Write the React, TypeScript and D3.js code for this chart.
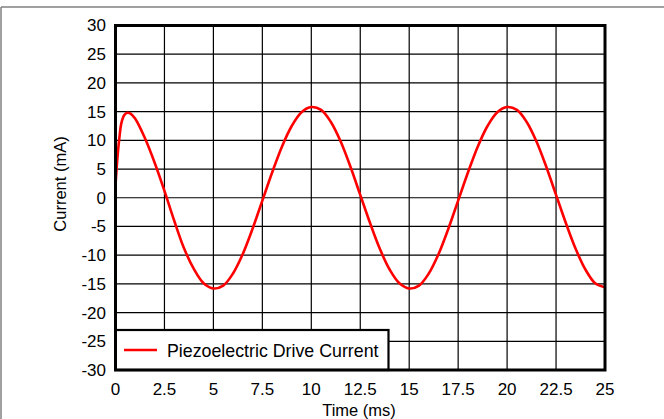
import React from "react";
import * as d3 from "d3";

const timeMs = [0, 0.1, 0.2, 0.3, 0.45, 0.6, 0.75, 1.0, 1.5, 2.0, 2.5, 3.0, 3.5, 4.0, 4.5, 5.0, 5.5, 6.0, 6.5, 7.0, 7.5, 8.0, 8.5, 9.0, 9.5, 10.0, 10.5, 11.0, 11.5, 12.0, 12.5, 13.0, 13.5, 14.0, 14.5, 15.0, 15.5, 16.0, 16.5, 17.0, 17.5, 18.0, 18.5, 19.0, 19.5, 20.0, 20.5, 21.0, 21.5, 22.0, 22.5, 23.0, 23.5, 24.0, 24.5, 25.0];
const currentMa = [2.2, 7.0, 10.5, 13.0, 14.4, 14.8, 14.7, 13.8, 10.4, 6.1, 1.2, -4.0, -8.8, -12.4, -14.9, -15.8, -15.3, -13.2, -9.8, -5.4, -0.5, 4.4, 8.9, 12.5, 14.9, 15.8, 15.3, 13.2, 9.8, 5.4, 0.5, -4.4, -8.9, -12.5, -14.9, -15.8, -15.3, -13.2, -9.8, -5.4, -0.5, 4.4, 8.9, 12.5, 14.9, 15.8, 15.3, 13.2, 9.8, 5.4, 0.5, -4.4, -8.9, -12.5, -14.9, -15.6];
const xTicks = [0, 2.5, 5, 7.5, 10, 12.5, 15, 17.5, 20, 22.5, 25];
const xTickLabels = ["0", "2.5", "5", "7.5", "10", "12.5", "15", "17.5", "20", "22.5", "25"];
const yTicks = [30, 25, 20, 15, 10, 5, 0, -5, -10, -15, -20, -25, -30];
const seriesName = "Piezoelectric Drive Current";
const xTitle = "Time (ms)";
const yTitle = "Current (mA)";

export default function App() {
  const W = 664, H = 419;
  const x = d3.scaleLinear().domain([0, 25]).range([115.5, 605]);
  const y = d3.scaleLinear().domain([-30, 30]).range([370, 25.5]);
  const pts: [number, number][] = timeMs.map((t, i) => [t, currentMa[i]]);
  const line = d3.line<[number, number]>().x(d => x(d[0])).y(d => y(d[1])).curve(d3.curveCatmullRom.alpha(0.5));
  const font = "Arial, 'Liberation Sans', sans-serif";
  const legX0 = x(0), legY0 = 330, legX1 = 388.5, legY1 = y(-30);
  return (
    <svg width={W} height={H} style={{ position: "absolute", left: 0, top: 0, background: "#fff" }} fontFamily={font}>
      <rect x={0} y={0} width={W} height={H} fill="#fff" />
      <line x1={1} x2={W} y1={7} y2={7} stroke="#808080" strokeWidth={1.5} />
      <line x1={1} x2={1} y1={7} y2={H} stroke="#808080" strokeWidth={1.5} />
      {xTicks.map(t => (
        <line key={"vx" + t} x1={x(t)} x2={x(t)} y1={y(30)} y2={y(-30)} stroke="#000" strokeWidth={1.2} />
      ))}
      {yTicks.map(v => (
        <line key={"hy" + v} x1={x(0)} x2={x(25)} y1={y(v)} y2={y(v)} stroke="#000" strokeWidth={1.2} />
      ))}
      <path d={line(pts) || ""} fill="none" stroke="#ff0000" strokeWidth={2.6} />
      <rect x={legX0} y={legY0} width={legX1 - legX0} height={legY1 - legY0} fill="#fff" stroke="#000" strokeWidth={2.2} />
      <line x1={124} x2={157} y1={350} y2={350} stroke="#ff0000" strokeWidth={2.6} />
      <text x={167} y={357} fontSize={17.8} fill="#000">{seriesName}</text>
      <rect x={x(0)} y={y(30)} width={x(25) - x(0)} height={y(-30) - y(30)} fill="none" stroke="#000" strokeWidth={3} />
      {yTicks.map(v => (
        <text key={"yl" + v} x={106} y={y(v)} dy="0.35em" textAnchor="end" fontSize={17} fill="#000">{String(v)}</text>
      ))}
      {xTicks.map((t, i) => (
        <text key={"xl" + t} x={x(t)} y={395} textAnchor="middle" fontSize={17} fill="#000">{xTickLabels[i]}</text>
      ))}
      <text x={359} y={416} textAnchor="middle" fontSize={16.5} fill="#000">{xTitle}</text>
      <text transform={`translate(66,184) rotate(-90)`} textAnchor="middle" fontSize={16.5} fill="#000">{yTitle}</text>
    </svg>
  );
}
